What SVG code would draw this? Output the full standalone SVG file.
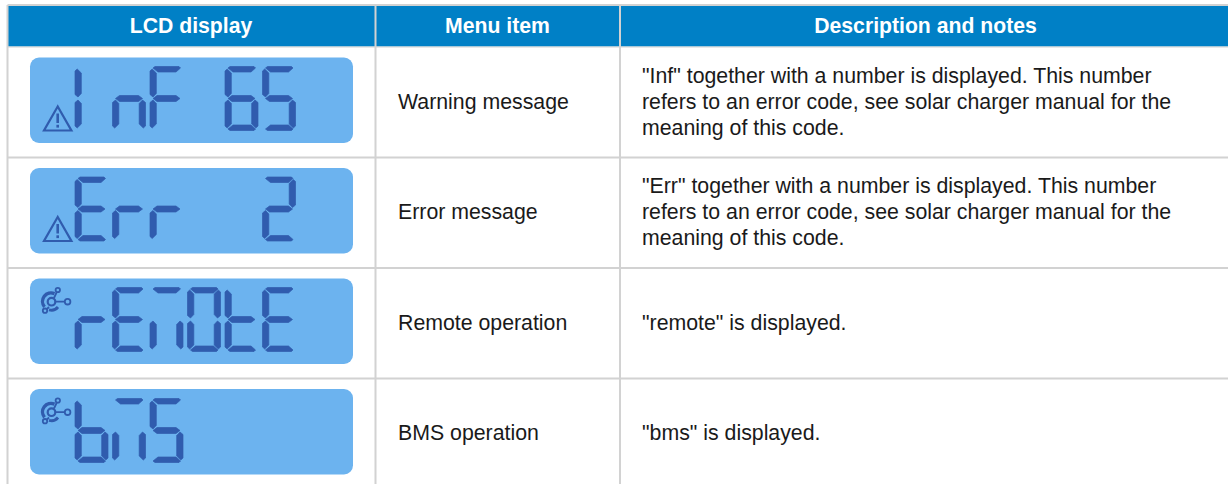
<svg xmlns="http://www.w3.org/2000/svg" width="1228" height="484" viewBox="0 0 1228 484">
<style>
.grid{stroke:#d2d2d2;stroke-width:2;fill:none}
.head{fill:#fff;font:bold 21.200px "Liberation Sans",Arial,sans-serif;text-anchor:middle}
.cell{fill:#1a1a1a;font:21.300px "Liberation Sans",Arial,sans-serif}
.lcd{fill:#6cb3ef}
.seg{fill:#305cae}
.ico{fill:none;stroke:#305cae;stroke-width:1.800}
</style>
<defs>
<polygon id="a" points="5,0 29,0 30.5,1.5 26,5.5 8,5.5 3,1.5" stroke="#305cae" stroke-width=".7"/>
<polygon id="f" points="0,4.5 2.2,2.5 6.300,6.500 6.300,27 3,30.5 0,28" stroke="#305cae" stroke-width=".7"/>
<polygon id="b" points="33,4.5 30.8,2.5 26.700,6.500 26.700,27 30,30.5 33,28" stroke="#305cae" stroke-width=".7"/>
<polygon id="g" points="3,32 7,29 26,29 30,32 26,35 7,35" stroke="#305cae" stroke-width=".7"/>
<polygon id="e" points="0,36 3,33.5 6.300,37 6.300,57.500 2.2,61.5 0,59.5" stroke="#305cae" stroke-width=".7"/>
<polygon id="c" points="33,36 30,33.5 26.700,37 26.700,57.500 30.8,61.5 33,59.5" stroke="#305cae" stroke-width=".7"/>
<polygon id="d" points="5,64 29,64 30.5,62.5 26,58.5 8,58.5 3,62.5" stroke="#305cae" stroke-width=".7"/>
<g id="warn"><path d="M57.700 106.500L44 130.500H71.400Z" class="ico" style="stroke-width:2.200"/><rect x="56.400" y="113.500" width="2.600" height="9.500" class="seg"/><rect x="56.400" y="124.800" width="2.600" height="2.800" class="seg"/></g>
<g id="net"><circle cx="51.500" cy="301.700" r="3.800" class="ico" style="stroke-width:2.200"/><path d="M54.500 293.600A8.500 8.500 0 0 0 44.500 306.800" class="ico" style="stroke-width:3.400"/><path d="M49 309.800A8.500 8.500 0 0 0 58 307" class="ico" style="stroke-width:2.800"/><path d="M55 301.700H65M54 298L56.800 292M47 309L49 307" class="ico"/><circle cx="57.800" cy="290" r="2.200" class="ico"/><circle cx="67.600" cy="301.700" r="2.800" class="ico"/><circle cx="45" cy="310.700" r="2.200" class="ico"/></g>
</defs>
<rect x="8" y="6" width="1220" height="40.500" fill="#0080c6"/>
<g id="grid-lines">
<path class="grid" d="M7.500 5H1228M7.500 5V484M375.500 5V484M620 5V484M7.500 157.500H1228M7.500 268H1228M7.500 378.500H1228"/>
<path d="M8 47H1228" stroke="#d2d2d2" stroke-width="1"/>
</g>
<text class="head" x="191" y="33">LCD display</text>
<text class="head" x="497.500" y="33">Menu item</text>
<text class="head" x="925.500" y="33">Description and notes</text>

<g id="row1">
<rect class="lcd" x="30" y="57.500" width="323" height="85.500" rx="9"/>
<use href="#warn"/>
<g class="seg" transform="translate(75 66.500)"><use href="#f"/><use href="#e"/></g>
<g class="seg" transform="translate(112.500 66.500)"><use href="#e"/><use href="#g"/><use href="#c"/></g>
<g class="seg" transform="translate(150 66.500)"><use href="#a"/><use href="#f"/><use href="#g"/><use href="#e"/></g>
<g class="seg" transform="translate(225 66.500)"><use href="#a"/><use href="#f"/><use href="#g"/><use href="#e"/><use href="#c"/><use href="#d"/></g>
<g class="seg" transform="translate(262.500 66.500)"><use href="#a"/><use href="#f"/><use href="#g"/><use href="#c"/><use href="#d"/></g>
<text class="cell" x="398" y="109">Warning message</text>
<text class="cell" x="642" y="83">"Inf" together with a number is displayed. This number</text>
<text class="cell" x="642" y="109">refers to an error code, see solar charger manual for the</text>
<text class="cell" x="642" y="135">meaning of this code.</text>
</g>

<g id="row2">
<rect class="lcd" x="30" y="168" width="323" height="85.500" rx="9"/>
<use href="#warn" y="110.500"/>
<g class="seg" transform="translate(75 177)"><use href="#a"/><use href="#f"/><use href="#g"/><use href="#e"/><use href="#d"/></g>
<g class="seg" transform="translate(112.500 177)"><use href="#e"/><use href="#g"/></g>
<g class="seg" transform="translate(150 177)"><use href="#e"/><use href="#g"/></g>
<g class="seg" transform="translate(262.500 177)"><use href="#a"/><use href="#b"/><use href="#g"/><use href="#e"/><use href="#d"/></g>
<text class="cell" x="398" y="219">Error message</text>
<text class="cell" x="642" y="193">"Err" together with a number is displayed. This number</text>
<text class="cell" x="642" y="219">refers to an error code, see solar charger manual for the</text>
<text class="cell" x="642" y="245">meaning of this code.</text>
</g>

<g id="row3">
<rect class="lcd" x="30" y="278.500" width="323" height="85.500" rx="9"/>
<use href="#net"/>
<g class="seg" transform="translate(75 287.500)"><use href="#e"/><use href="#g"/></g>
<g class="seg" transform="translate(112.500 287.500)"><use href="#a"/><use href="#f"/><use href="#g"/><use href="#e"/><use href="#d"/></g>
<g class="seg" transform="translate(150 287.500)"><use href="#a"/><use href="#e"/><use href="#c"/></g>
<g class="seg" transform="translate(187.500 287.500)"><use href="#a"/><use href="#f"/><use href="#b"/><use href="#e"/><use href="#c"/><use href="#d"/></g>
<g class="seg" transform="translate(225 287.500)"><use href="#f"/><use href="#g"/><use href="#e"/><use href="#d"/></g>
<g class="seg" transform="translate(262.500 287.500)"><use href="#a"/><use href="#f"/><use href="#g"/><use href="#e"/><use href="#d"/></g>
<text class="cell" x="398" y="330">Remote operation</text>
<text class="cell" x="642" y="330">"remote" is displayed.</text>
</g>

<g id="row4">
<rect class="lcd" x="30" y="389" width="323" height="85.500" rx="9"/>
<use href="#net" y="110.500"/>
<g class="seg" transform="translate(75 398.500)"><use href="#f"/><use href="#g"/><use href="#e"/><use href="#c"/><use href="#d"/></g>
<g class="seg" transform="translate(112.500 398.500)"><use href="#a"/><use href="#e"/><use href="#c"/></g>
<g class="seg" transform="translate(150 398.500)"><use href="#a"/><use href="#f"/><use href="#g"/><use href="#c"/><use href="#d"/></g>
<text class="cell" x="398" y="440">BMS operation</text>
<text class="cell" x="642" y="440">"bms" is displayed.</text>
</g>
</svg>
